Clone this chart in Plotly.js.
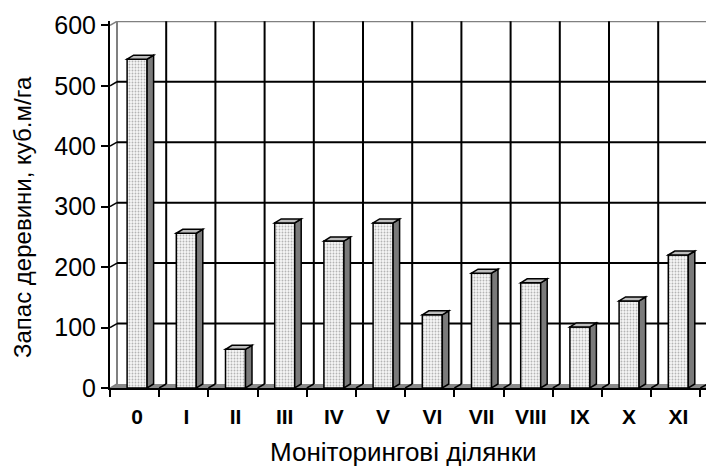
<!DOCTYPE html>
<html>
<head>
<meta charset="utf-8">
<script src="https://cdn.plot.ly/plotly-3.0.1.min.js"></script>
<style>html,body{margin:0;padding:0;background:#fff;}#chart{width:706px;height:470px;}</style>
</head>
<body>
<div id="chart"></div>
<script>
// ---- data ----
const categories = ['0','I','II','III','IV','V','VI','VII','VIII','IX','X','XI'];
const values = [544, 256, 64, 273, 243, 273, 121, 190, 174, 101, 144, 220];
const yTickValues = [0, 100, 200, 300, 400, 500, 600];
const xTitle = 'Моніторингові ділянки';
const yTitle = 'Запас деревини, куб.м/га';

// ---- geometry (pixels -> data units) ----
const pxPerCat = 49.2;
const pxPerUnit = 0.6045;
const wallDX = 7 / pxPerCat, wallDY = 4 / pxPerUnit;
const barDX = 6.5 / pxPerCat, barDY = 4 / pxPerUnit;
const barW = 20 / pxPerCat;
const barOff = 2.5 / pxPerCat;
const xMin = -0.5, xMax = -0.5 + 596 / pxPerCat;
const yMax = 600;
const yTop = (388 - 21) / pxPerUnit;
const xRight = xMax + 1;

const shapes = [];
const black = '#000000';
// floor
shapes.push({type:'path', layer:'below', xref:'x', yref:'y',
  path:`M ${xMin},0 L ${xMin+wallDX},${wallDY} L ${xRight},${wallDY} L ${xRight},0 Z`,
  fillcolor:'#8a8a8a', line:{width:0}});
// back wall edges (grey)
shapes.push({type:'line', layer:'below', xref:'x', yref:'y', x0:xMin+wallDX, x1:xRight, y0:yMax+wallDY, y1:yMax+wallDY, line:{color:'#808080', width:2}});
shapes.push({type:'line', layer:'below', xref:'x', yref:'y', x0:xMin+wallDX, x1:xMin+wallDX, y0:wallDY, y1:yMax+wallDY, line:{color:'#808080', width:2}});
shapes.push({type:'line', layer:'below', xref:'x', yref:'y', x0:xMin, x1:xMin+wallDX, y0:yMax, y1:yMax+wallDY, line:{color:'#808080', width:1.5}});
shapes.push({type:'line', layer:'below', xref:'x', yref:'y', x0:xMin, x1:xMin+wallDX, y0:0, y1:wallDY, line:{color:'#808080', width:1.5}});
// horizontal gridlines
yTickValues.forEach(v => {
  if (v === 0 || v === yMax) return;
  shapes.push({type:'line', layer:'below', xref:'x', yref:'y', x0:xMin+wallDX, x1:xRight, y0:v+wallDY, y1:v+wallDY, line:{color:black, width:2}});
  shapes.push({type:'line', layer:'below', xref:'x', yref:'y', x0:xMin, x1:xMin+wallDX, y0:v, y1:v+wallDY, line:{color:black, width:1.5}});
});
// vertical gridlines
categories.forEach((c, i) => {
  const b = i + 0.5;
  shapes.push({type:'line', layer:'below', xref:'x', yref:'y', x0:b+wallDX, x1:b+wallDX, y0:wallDY, y1:yMax+wallDY, line:{color:black, width:2}});
  shapes.push({type:'line', layer:'below', xref:'x', yref:'y', x0:b, x1:b+wallDX, y0:0, y1:wallDY, line:{color:black, width:1.5}});
});
// bar side and top faces
values.forEach((v, i) => {
  const xl = i + barOff - barW/2, xr = i + barOff + barW/2;
  shapes.push({type:'path', layer:'above', xref:'x', yref:'y',
    path:`M ${xr},0 L ${xr+barDX},${barDY} L ${xr+barDX},${v+barDY} L ${xr},${v} Z`,
    fillcolor:'#7a7a7a', line:{color:black, width:1.5}});
  shapes.push({type:'path', layer:'above', xref:'x', yref:'y',
    path:`M ${xl},${v} L ${xl+barDX},${v+barDY} L ${xr+barDX},${v+barDY} L ${xr},${v} Z`,
    fillcolor:'#bdbdbd', line:{color:black, width:1.5}});
});

const trace = {
  type:'bar',
  x: categories.map((c, i) => i + barOff),
  y: values,
  width: barW,
  marker:{color:'#efefef', line:{color:black, width:1.5},
    pattern:{shape:'.', bgcolor:'#f6f6f6', fgcolor:'#b4b4b4', size:3, solidity:0.3}},
  hoverinfo:'skip'
};

const font = 'Liberation Sans, Arial, sans-serif';
const layout = {
  width:706, height:470,
  margin:{l:110, r:0, t:21, b:82, pad:0},
  paper_bgcolor:'#ffffff', plot_bgcolor:'#ffffff',
  showlegend:false,
  bargap:0,
  xaxis:{
    type:'linear', range:[xMin, xMax], fixedrange:true,
    tickvals: categories.map((c, i) => i + barOff), ticktext: categories,
    ticks:'', showgrid:false, zeroline:false,
    showline:true, linecolor:black, linewidth:2,
    ticklabelstandoff: 9,
    minor:{tick0:-0.5, dtick:1, ticks:'outside', ticklen:7, tickwidth:2, tickcolor:black, showgrid:false},
    tickfont:{family:font, size:21, color:black, weight:'bold'}
  },
  yaxis:{
    range:[0, yTop], fixedrange:true,
    tickvals: yTickValues,
    ticks:'outside', ticklen:7, tickwidth:2, tickcolor:black,
    showgrid:false, zeroline:false,
    showline:true, linecolor:black, linewidth:2,
    tickfont:{family:font, size:25, color:black}
  },
  annotations:[
    {text:xTitle, xref:'paper', yref:'paper', x:(403-110)/596, y:(388-452)/367,
     xanchor:'center', yanchor:'middle', showarrow:false,
     font:{family:font, size:26, color:black}},
    {text:yTitle, xref:'paper', yref:'paper', x:(22-110)/596, y:(388-217)/367,
     xanchor:'center', yanchor:'middle', showarrow:false, textangle:-90,
     font:{family:font, size:24, color:black}}
  ],
  shapes: shapes
};

Plotly.newPlot('chart', [trace], layout, {staticPlot:true, displayModeBar:false});
</script>
</body>
</html>
